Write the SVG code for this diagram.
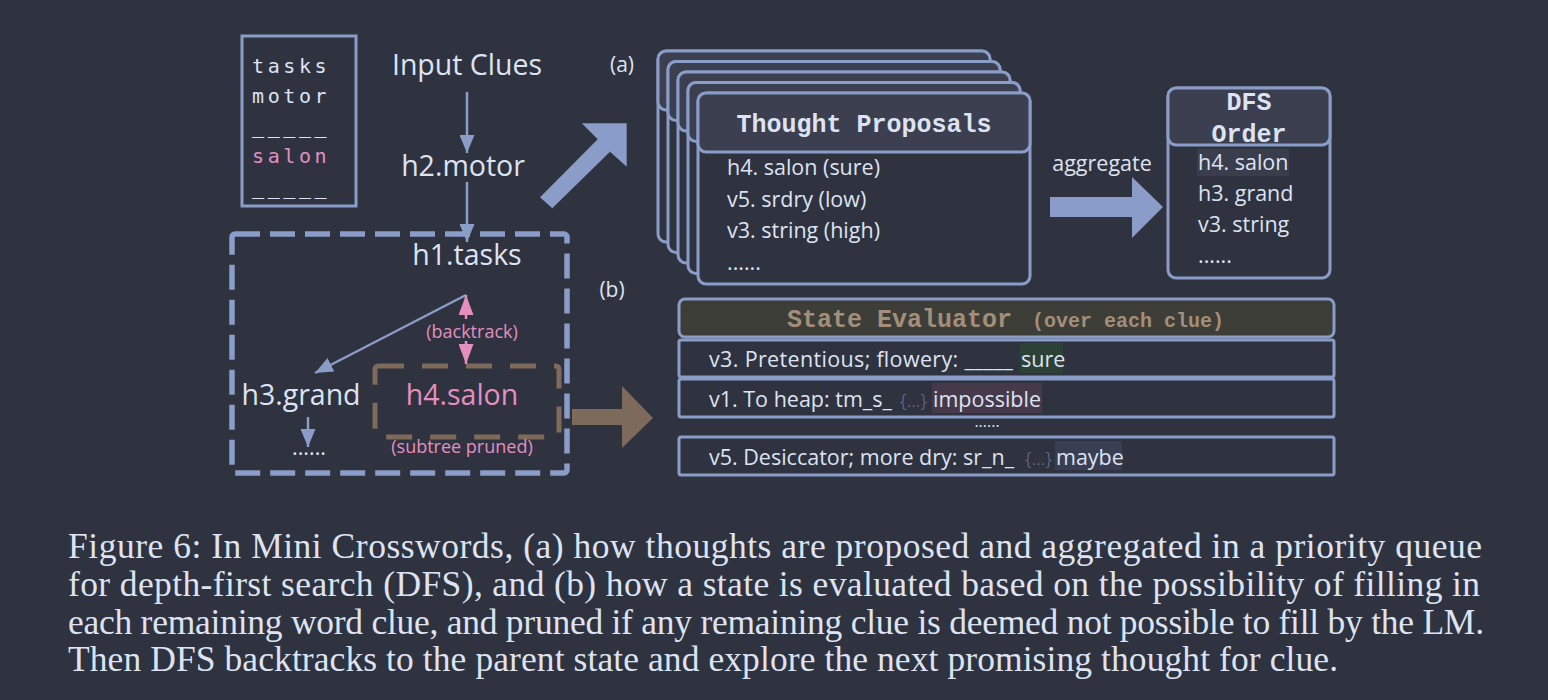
<svg xmlns="http://www.w3.org/2000/svg" width="1548" height="700" viewBox="0 0 1548 700">
<style>
.t{font-family:"Open Sans","Noto Sans",sans-serif;fill:#dde3f2}
.big{font-size:28.5px}
.it{font-size:21.5px}
.pk{fill:#e48fc0}
.mono{font-family:"Liberation Mono","DejaVu Sans Mono",monospace;font-weight:bold;fill:#dde3f2}
.card{fill:#2f323f;stroke:#8a9cc8;stroke-width:3}
.hdr{fill:#3b3f50;stroke:#8a9cc8;stroke-width:3}
.row{fill:#2f323f;stroke:#8a9cc8;stroke-width:3}
.ln{stroke:#8a9cc8;stroke-width:2.5;fill:none}
.cap{font-family:"Liberation Serif","Times New Roman",serif;font-size:35.5px;fill:#dde3f2}
.dim{fill:#6b7591;font-size:19px;font-weight:300}
</style>
<defs>
<marker id="ab" markerUnits="userSpaceOnUse" markerWidth="18" markerHeight="15" refX="18" refY="7.5" orient="auto"><path d="M0,0 L18,7.5 L0,15 z" fill="#8a9cc8"/></marker>
<marker id="ap" markerUnits="userSpaceOnUse" markerWidth="20" markerHeight="15" refX="20" refY="7.5" orient="auto"><path d="M0,0 L20,7.5 L0,15 z" fill="#e48fc0"/></marker>
</defs>
<rect width="1548" height="700" fill="#2f323f"/>

<g id="clue-list">
<rect x="242" y="36" width="114" height="170" fill="none" stroke="#8a9cc8" stroke-width="3"/>
<g font-family="DejaVu Sans Mono,monospace" font-size="20" letter-spacing="3.6" fill="#dde3f2">
<text x="252" y="73">tasks</text>
<text x="252" y="103">motor</text>
<text x="252" y="133">_____</text>
<text x="252" y="163" fill="#e48fc0">salon</text>
<text x="252" y="194">_____</text>
</g>
</g>

<g id="input-clues"><text class="t big" x="467" y="75" text-anchor="middle">Input Clues</text></g>
<g id="h2-motor"><text class="t big" x="463" y="176" text-anchor="middle">h2.motor</text></g>

<g id="search-tree">
<rect x="232" y="234" width="335" height="239" rx="3" fill="none" stroke="#8a9cc8" stroke-width="5.5" stroke-dasharray="25 10"/>
</g>
<g id="h1-tasks"><text class="t big" x="467" y="265" text-anchor="middle">h1.tasks</text></g>
<g id="h3-grand"><text class="t big" x="301" y="405" text-anchor="middle">h3.grand</text><text class="t it" x="309" y="455" text-anchor="middle">......</text></g>
<g id="h4-salon">
<rect x="375" y="366" width="184" height="71" rx="3" fill="none" stroke="#7e6a5a" stroke-width="5" stroke-dasharray="26 18"/>
<text class="t big pk" x="462" y="405" text-anchor="middle">h4.salon</text>
<text class="t pk" font-size="18" x="462" y="453" text-anchor="middle">(subtree pruned)</text>
</g>
<g id="backtrack-label"><text class="t pk" font-size="18" x="472" y="338" text-anchor="middle">(backtrack)</text></g>

<g id="label-a"><text class="t" font-size="21" x="622" y="72" text-anchor="middle">(a)</text></g>
<g id="label-b"><text class="t" font-size="21" x="612" y="297" text-anchor="middle">(b)</text></g>

<g id="thought-proposals">
<rect class="card" x="658" y="51" width="332" height="191" rx="8"/><rect class="hdr" x="658" y="51" width="332" height="59" rx="8"/>
<rect class="card" x="668" y="61.5" width="332" height="191" rx="8"/><rect class="hdr" x="668" y="61.5" width="332" height="59" rx="8"/>
<rect class="card" x="678" y="72" width="332" height="191" rx="8"/><rect class="hdr" x="678" y="72" width="332" height="59" rx="8"/>
<rect class="card" x="688" y="82.5" width="332" height="191" rx="8"/><rect class="hdr" x="688" y="82.5" width="332" height="59" rx="8"/>
<rect class="card" x="698" y="93" width="332" height="191" rx="8"/><rect class="hdr" x="698" y="93" width="332" height="59" rx="8"/>
<text class="mono" font-size="25" x="864" y="132" text-anchor="middle">Thought Proposals</text>
<text class="t it" x="727" y="175">h4. salon (sure)</text>
<text class="t it" x="727" y="207">v5. srdry (low)</text>
<text class="t it" x="727" y="238">v3. string (high)</text>
<text class="t it" x="727" y="270">......</text>
</g>

<g id="aggregate"><text class="t it" x="1102" y="171" text-anchor="middle">aggregate</text></g>

<g id="dfs-order">
<rect class="card" x="1168" y="88" width="162" height="190" rx="8"/>
<rect class="hdr" x="1168" y="88" width="162" height="57" rx="8"/>
<text class="mono" font-size="25" x="1249" y="110" text-anchor="middle">DFS</text>
<text class="mono" font-size="25" x="1249" y="142" text-anchor="middle">Order</text>
<rect x="1197" y="149" width="92" height="27" fill="#393d4c"/>
<text class="t it" x="1198" y="170">h4. salon</text>
<text class="t it" x="1198" y="201">h3. grand</text>
<text class="t it" x="1198" y="232">v3. string</text>
<text class="t it" x="1198" y="263">......</text>
</g>

<g id="state-evaluator">
<rect x="679" y="299" width="655" height="38" rx="6" fill="#3d3e37" stroke="#8a9cc8" stroke-width="3"/>
<text font-family="Liberation Mono,DejaVu Sans Mono,monospace" font-weight="bold" fill="#a38e7b" x="787" y="327"><tspan font-size="25">State Evaluator</tspan><tspan font-size="20" x="1032">(over each clue)</tspan></text>
</g>
<g id="eval-v3">
<rect class="row" x="679" y="340" width="655" height="37" rx="2"/>
<rect x="1020" y="343" width="43" height="30" fill="#2c4236"/>
<text class="t" font-size="21.5" x="709" y="367"><tspan textLength="304" lengthAdjust="spacing">v3. Pretentious; flowery: _____</tspan><tspan x="1021">sure</tspan></text>
</g>
<g id="eval-v1">
<rect class="row" x="679" y="379" width="655" height="38" rx="2"/>
<rect x="932" y="383" width="110" height="30" fill="#46394a"/>
<text class="t" font-size="21.5" x="709" y="407">v1. To heap: tm_s_<tspan class="dim" x="900">{...}</tspan><tspan x="933">impossible</tspan></text>
</g>
<g id="eval-dots"><text class="t" font-size="16" x="987" y="427" text-anchor="middle">......</text></g>
<g id="eval-v5">
<rect class="row" x="679" y="437" width="655" height="38" rx="2"/>
<rect x="1055" y="441" width="67" height="29" fill="#3a3e52"/>
<text class="t" font-size="21.5" x="709" y="465">v5. Desiccator; more dry: sr_n_<tspan class="dim" x="1025">{...}</tspan><tspan x="1056">maybe</tspan></text>
</g>

<g id="connectors">
<line class="ln" x1="467" y1="92" x2="467" y2="153" marker-end="url(#ab)"/>
<line class="ln" x1="467" y1="182" x2="467" y2="242" marker-end="url(#ab)"/>
<line class="ln" x1="466" y1="295" x2="315" y2="373" marker-end="url(#ab)"/>
<line class="ln" x1="308" y1="417" x2="308" y2="447" marker-end="url(#ab)"/>
<line stroke="#e48fc0" stroke-width="2.5" x1="466" y1="319" x2="466" y2="295" marker-end="url(#ap)"/>
<line stroke="#e48fc0" stroke-width="2.5" x1="466" y1="341" x2="466" y2="364" marker-end="url(#ap)"/>
<polygon points="581.7,123.3 626.7,123.3 626.7,166.7 610,151.7 552.3,208.3 540,197.3 597.7,139.3" fill="#8a9cc8"/>
<polygon points="1050,197 1132,197 1132,177 1163,207 1132,238 1132,217 1050,217" fill="#8a9cc8"/>
<polygon points="572,409 622,409 622,386 653,418 622,448 622,425 572,425" fill="#7e6a5a"/>
</g>

<g id="caption">
<text class="cap" x="68" y="558" textLength="1414" lengthAdjust="spacing">Figure 6: In Mini Crosswords, (a) how thoughts are proposed and aggregated in a priority queue</text>
<text class="cap" x="68" y="596" textLength="1412" lengthAdjust="spacing">for depth-first search (DFS), and (b) how a state is evaluated based on the possibility of filling in</text>
<text class="cap" x="68" y="634" textLength="1416" lengthAdjust="spacing">each remaining word clue, and pruned if any remaining clue is deemed not possible to fill by the LM.</text>
<text class="cap" x="68" y="671" textLength="1270" lengthAdjust="spacing">Then DFS backtracks to the parent state and explore the next promising thought for clue.</text>
</g>
</svg>
